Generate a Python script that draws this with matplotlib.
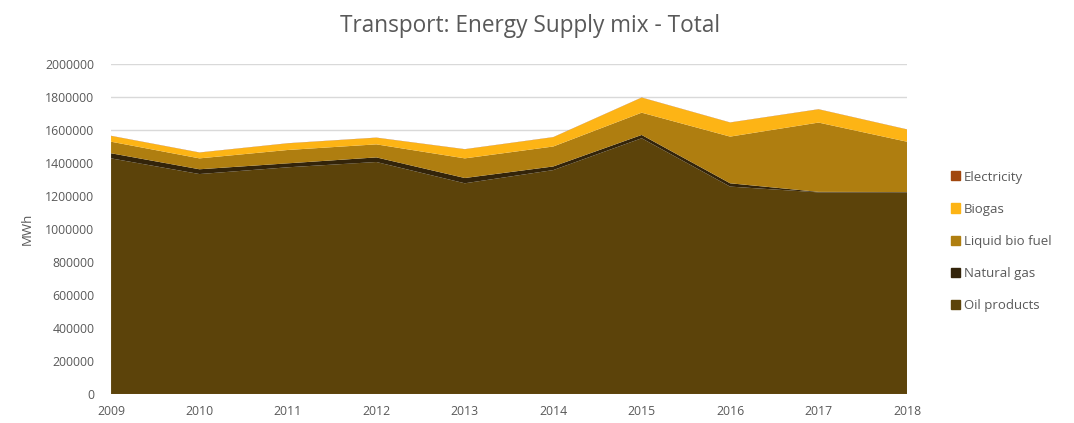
import matplotlib
matplotlib.use('Agg')
import matplotlib.pyplot as plt
from matplotlib.patches import Patch
from matplotlib.ticker import FuncFormatter

# Data (MWh)
years = [2009, 2010, 2011, 2012, 2013, 2014, 2015, 2016, 2017, 2018]
oil_products = [1428000, 1333000, 1374000, 1406000, 1277000, 1357000, 1550000, 1257000, 1222000, 1222000]
natural_gas = [31000, 29000, 24000, 28000, 32000, 22000, 20000, 20000, 3000, 2000]
liquid_bio_fuel = [70000, 66000, 81000, 79000, 119000, 121000, 135000, 283000, 420000, 305000]
biogas = [35000, 35000, 40000, 40000, 55000, 56000, 91000, 85000, 80000, 74000]
electricity = [1000, 1000, 1000, 1000, 1000, 1000, 1000, 1000, 1000, 1000]

series_names = ['Oil products', 'Natural gas', 'Liquid bio fuel', 'Biogas', 'Electricity']
series_colors = ['#5C430A', '#33240A', '#AF7E10', '#FDB415', '#A1470E']

text_col = '#595959'
plt.rcParams['font.family'] = ['Open Sans', 'DejaVu Sans']

fig = plt.figure(figsize=(10.74, 4.23), dpi=100)
ax = fig.add_axes([0.1034, 0.0686, 0.7411, 0.7801])

ax.stackplot(years, oil_products, natural_gas, liquid_bio_fuel, biogas, electricity,
             colors=series_colors, linewidth=0)

ax.set_xlim(years[0], years[-1])
ax.set_ylim(0, 2000000)
ax.set_yticks(range(0, 2000001, 200000))
ax.set_xticks(years)
ax.yaxis.set_major_formatter(FuncFormatter(lambda v, p: f'{int(v)}'))
ax.grid(axis='y', color='#D9D9D9', linewidth=1)
ax.set_axisbelow(True)
for s in ax.spines.values():
    s.set_visible(False)
ax.tick_params(length=0, labelsize=8.8, colors=text_col)
ax.tick_params(axis='x', pad=8)
ax.tick_params(axis='y', pad=12)
ax.set_ylabel('MWh', fontsize=9.5, color=text_col, labelpad=8)

fig.suptitle('Transport: Energy Supply mix - Total', x=0.494, y=0.968, fontsize=16.3, color=text_col)

handles = [Patch(color=c, label=n) for n, c in zip(series_names, series_colors)][::-1]
fig.legend(handles=handles, loc='upper left', bbox_to_anchor=(0.874, 0.625), frameon=False,
           fontsize=9.5, labelcolor=text_col, handlelength=0.7, handleheight=0.7,
           handletextpad=0.3, labelspacing=1.45)

fig.savefig('out.png', dpi=100)
